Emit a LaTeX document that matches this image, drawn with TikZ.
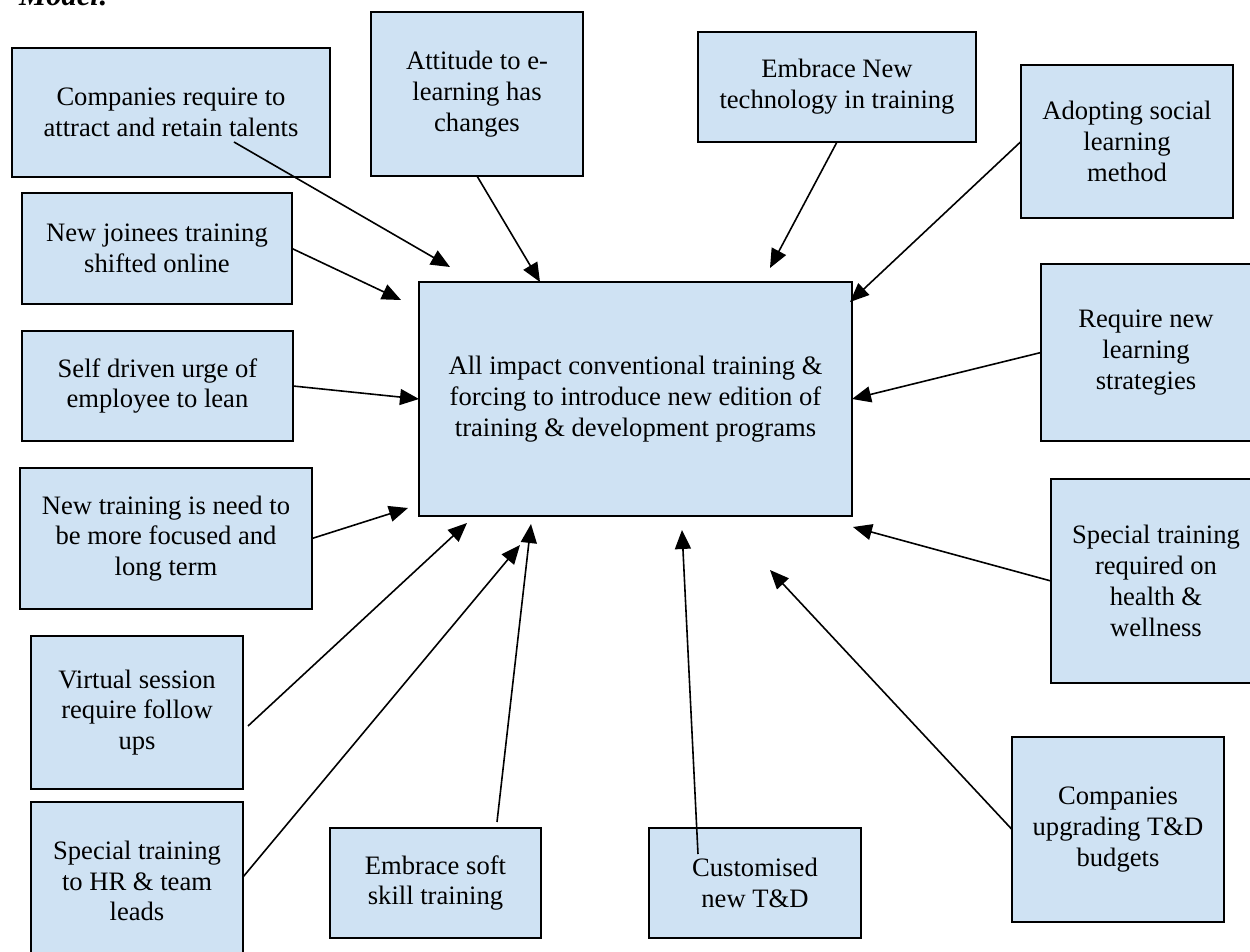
\documentclass[tikz,border=0pt]{standalone}
\usepackage{fontspec}
\setmainfont{Liberation Serif}
\usetikzlibrary{arrows.meta}
\definecolor{boxblue}{RGB}{207,226,243}

\begin{document}
\begin{tikzpicture}[x=0.5pt, y=-0.5pt,
  every node/.style={font=\fontsize{13.3pt}{15.4pt}\selectfont},
  box/.style={draw, line width=0.9pt, fill=boxblue, align=center, inner sep=0pt, outer sep=0pt},
  arr/.style={line width=0.8pt, -{Triangle[length=9.5pt,width=8pt]}}]
\useasboundingbox (0,0) rectangle (1250,952);
\node[anchor=base west, font=\fontsize{15.3pt}{17.6pt}\selectfont\bfseries\itshape] (model) at (12,6) {Model:};
% outer boxes
\node[box, minimum width=159pt, minimum height=64.5pt] (talent) at (171,112.5) {Companies require to\\ attract and retain talents};
\node[box, minimum width=135pt, minimum height=55.5pt] (joinees) at (157,248.5) {New joinees training\\ shifted online};
\node[box, minimum width=106pt, minimum height=82pt] (attitude) at (477,94) {Attitude to e-\\ learning has\\ changes};
\node[box, minimum width=139pt, minimum height=55pt] (embrace) at (837,87) {Embrace New\\ technology in training};
\node[box, minimum width=106pt, minimum height=76.5pt] (social) at (1127,141.5) {Adopting social\\ learning\\ method};
\node[box, minimum width=135.5pt, minimum height=55pt] (selfdriven) at (157.5,386) {Self driven urge of\\ employee to lean};
\node[box, minimum width=105pt, minimum height=88.5pt] (require) at (1146,352.5) {Require new\\ learning\\ strategies};
\node[box, minimum width=146pt, minimum height=70.5pt] (focus) at (166,538.5) {New training is need to\\ be more focused and\\ long term};
\node[box, minimum width=105pt, minimum height=102pt] (health) at (1156,581) {Special training\\ required on\\ health \&\\ wellness};
\node[box, minimum width=106pt, minimum height=76.5pt] (virtual) at (137,712.5) {Virtual session\\ require follow\\ ups};
\node[box, minimum width=106pt, minimum height=79pt] (hrleads) at (137,881) {Special training\\ to HR \& team\\ leads};
\node[box, minimum width=105.5pt, minimum height=55pt] (softskill) at (435.5,883) {Embrace soft\\ skill training};
\node[box, minimum width=106pt, minimum height=92.5pt] (budgets) at (1118,829.5) {Companies\\ upgrading T\&D\\ budgets};
% centre box
\node[box, minimum width=216.5pt, minimum height=117pt] (centre) at (635.5,399) {All impact conventional training \&\\ forcing to introduce new edition of\\ training \& development programs};
% arrows into the centre
\draw[arr] ([shift={(63,29.5)}]talent.center) -- ([shift={(-185.5,-15)}]centre.north);
\draw[arr] (joinees.east) -- ([shift={(-18,18)}]centre.north west);
\draw[arr] (attitude.south) -- ([shift={(-95.5,0)}]centre.north);
\draw[arr] (embrace.south) -- ([shift={(134.5,-14)}]centre.north);
\draw[arr] (social.west) -- ([shift={(-2,20)}]centre.north east);
\draw[arr] (selfdriven.east) -- (centre.west);
\draw[arr] (require.west) -- (centre.east);
\draw[arr] (focus.east) -- ([shift={(-11,-8)}]centre.south west);
\draw[arr] (health.west) -- ([shift={(1,11)}]centre.south east);
\draw[arr] ([shift={(5,13.5)}]virtual.east) -- ([shift={(48,7)}]centre.south west);
\draw[arr] ([shift={(0,-4)}]hrleads.east) -- ([shift={(101,29)}]centre.south west);
\draw[arr] ([shift={(61.5,-6)}]softskill.north) -- ([shift={(112,8)}]centre.south west);
\draw[arr] (budgets.west) -- ([shift={(134.5,54)}]centre.south);
% customised box is drawn before its arrow
\node[box, minimum width=106pt, minimum height=55pt] (custom) at (755,883) {Customised\\ new T\&D};
\draw[arr] ([shift={(-57,-29)}]custom.center) -- ([shift={(46.5,14)}]centre.south);
\end{tikzpicture}
\end{document}
